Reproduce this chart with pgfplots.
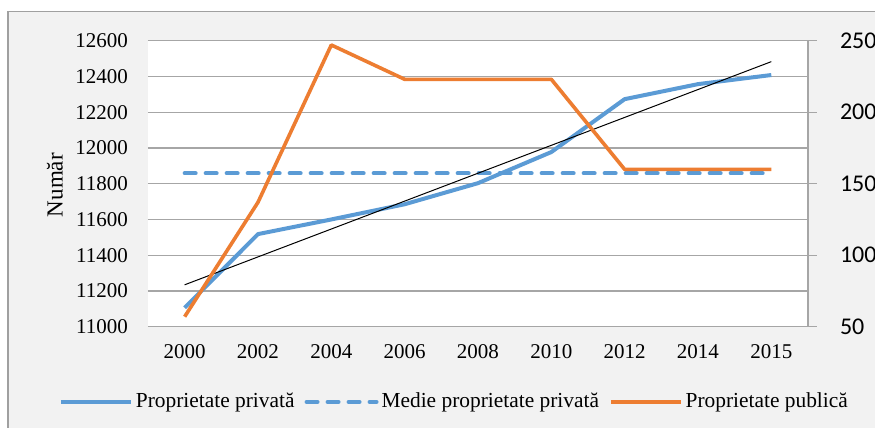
\documentclass[border=0pt]{standalone}
\usepackage{pgfplots}
\pgfplotsset{compat=1.18}
\usepackage{fontspec}
\setmainfont{Liberation Serif}
\newfontfamily\calibri{Carlito}
\definecolor{bgcol}{HTML}{F2F2F2}
\definecolor{bordercol}{HTML}{A0A0A0}
\definecolor{gridcol}{HTML}{A6A6A6}
\definecolor{cblue}{HTML}{5B9BD5}
\definecolor{corange}{HTML}{ED7D31}
\begin{document}
\begin{tikzpicture}
\useasboundingbox (0,0) rectangle (437.5pt,214pt);
\fill[bgcol] (4pt,0) rectangle (437.5pt,208.25pt);
\draw[bordercol, line width=0.7pt] (4pt,0) -- (4pt,208.25pt) -- (437.5pt,208.25pt);
\begin{axis}[
  at={(74pt,50.65pt)}, anchor=south west,
  scale only axis, width=330pt, height=143pt,
  xmin=-0.5, xmax=8.5, ymin=11000, ymax=12600,
  ytick={11000,11200,...,12600},
  scaled ticks=false,
  xtick={0,...,8},
  xticklabels={2000,2002,2004,2006,2008,2010,2012,2014,2015},
  axis x line*=bottom, axis y line*=left,
  axis line style={draw=none},
  major tick length=0pt,
  ymajorgrids, major grid style={gridcol, line width=0.6pt},
  axis background/.style={fill=white},
  /pgf/number format/assume math mode=true,
  /pgf/number format/1000 sep={},
  yticklabel style={font=\fontsize{10.5}{12}\selectfont, xshift=-6.5pt},
  xticklabel style={font=\fontsize{10.5}{12}\selectfont, yshift=-5.5pt},
  ylabel={Număr},
  ylabel style={at={(axis description cs:-0.141,0.495)}, anchor=center, font=\fontsize{11.5}{13}\selectfont},
  clip=false,
]
\addplot[cblue, line width=2pt, line join=round] coordinates {
(0,11106) (1,11518) (2,11600) (3,11685) (4,11803) (5,11977) (6,12273) (7,12357) (8,12408)};
\addplot[cblue, line width=2pt, line cap=round, dash pattern=on 5.5pt off 5pt] coordinates {
(0,11858.6) (1,11858.6) (2,11858.6) (3,11858.6) (4,11858.6) (5,11858.6) (6,11858.6) (7,11858.6) (8,11858.6)};
\addplot[black, line width=0.5pt] coordinates {(0,11234.4) (8,12482.8)};
\end{axis}
\begin{axis}[
  at={(74pt,50.65pt)}, anchor=south west,
  scale only axis, width=330pt, height=143pt,
  xmin=-0.5, xmax=8.5, ymin=50, ymax=250,
  ytick={50,100,...,250},
  axis y line*=right, axis x line=none,
  axis line style={gridcol, line width=0.6pt},
  ytick style={gridcol, line width=0.6pt},
  tick align=outside, major tick length=4.5pt,
  /pgf/number format/assume math mode=true,
  yticklabel style={font=\calibri\fontsize{12}{14}\selectfont, xshift=8pt},
  legend columns=3,
  legend style={at={(0.465,-0.263)}, anchor=center, draw=none, fill=none,
    font=\fontsize{10.7}{13}\selectfont,
    /tikz/every even column/.append style={column sep=3.5pt},
    nodes={inner sep=1.5pt}},
  legend image code/.code={\draw[#1] (0pt,0pt) -- (35pt,0pt);},
]
\addlegendimage{cblue, line width=2pt}
\addlegendentry{Proprietate privată}
\addlegendimage{cblue, line width=2pt, line cap=round, dash pattern=on 5.5pt off 5pt}
\addlegendentry{Medie proprietate privată}
\addplot[corange, line width=1.8pt, line join=round] coordinates {
(0,57) (1,137) (2,247) (3,223) (4,223) (5,223) (6,160) (7,160) (8,160)};
\addlegendentry{Proprietate publică}
\end{axis}
\end{tikzpicture}
\end{document}
